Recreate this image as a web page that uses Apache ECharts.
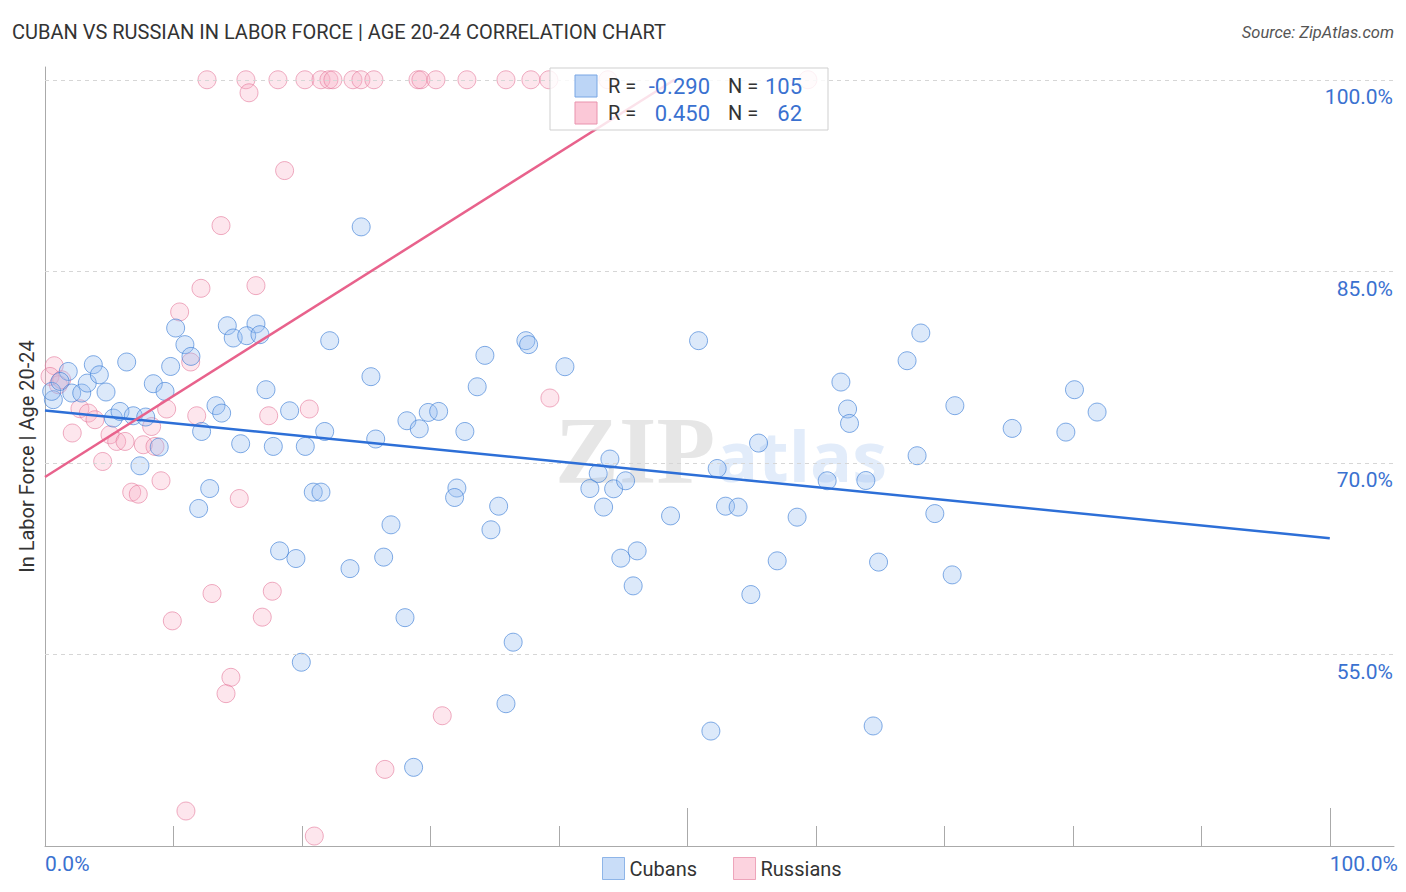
<!DOCTYPE html>
<html><head><meta charset="utf-8">
<script src="https://cdn.jsdelivr.net/npm/echarts@6/dist/echarts.min.js"></script>
<style>html,body{margin:0;padding:0;background:#fff}#c{width:1406px;height:892px}</style>
</head><body><div id="c"></div>
<script>
const cubans = [[0.65,74.95],[0.52,75.6],[1.81,77.16],[1.17,76.38],[2.08,75.47],[2.86,75.47],[3.29,76.25],[3.76,77.69],[4.23,76.9],[4.75,75.55],[5.32,73.51],[5.84,74.03],[6.87,73.69],[7.84,73.59],[6.36,77.9],[8.43,76.2],[9.34,75.6],[9.78,77.55],[10.89,79.26],[11.36,78.34],[10.17,80.56],[7.39,69.77],[8.89,71.24],[12.19,72.46],[13.31,74.48],[13.75,73.9],[15.23,71.5],[12.82,67.99],[11.96,66.43],[14.19,80.74],[16.42,80.88],[14.65,79.78],[15.7,79.96],[16.73,80.04],[22.16,79.57],[24.61,88.48],[25.37,76.75],[17.2,75.73],[17.77,71.29],[20.26,71.29],[19.04,74.08],[21.77,72.46],[25.74,71.87],[28.17,73.3],[29.13,72.67],[29.83,73.95],[30.64,74.03],[32.68,72.46],[33.64,75.96],[34.24,78.42],[37.43,79.57],[37.64,79.26],[40.47,77.53],[50.87,79.57],[61.95,76.33],[62.47,74.22],[62.62,73.09],[55.54,71.55],[43.97,70.3],[68.17,80.17],[67.1,78.0],[70.82,74.48],[75.28,72.7],[80.13,75.73],[81.89,73.98],[79.46,72.41],[67.88,70.56],[69.26,66.03],[70.61,61.23],[35.31,66.61],[34.71,64.76],[43.06,69.17],[42.41,67.99],[44.26,67.97],[45.19,68.6],[43.48,66.54],[48.69,65.85],[52.32,69.56],[52.97,66.61],[53.95,66.54],[60.88,68.6],[63.89,68.62],[58.54,65.75],[44.82,62.54],[46.09,63.11],[45.78,60.37],[56.99,62.33],[54.94,59.69],[64.88,62.23],[36.44,55.96],[35.88,51.14],[51.83,49.0],[64.46,49.4],[20.88,67.71],[21.48,67.71],[18.26,63.11],[19.53,62.51],[23.74,61.72],[26.93,65.15],[26.36,62.62],[28.02,57.88],[19.95,54.39],[28.69,46.16],[32.06,68.03],[31.88,67.29]];
const russians = [[12.61,100],[15.64,100],[18.13,100],[20.23,100],[21.48,100],[22.1,100],[22.41,100],[23.97,100],[24.59,100],[25.6,100],[29.03,100],[29.26,100],[30.43,100],[32.84,100],[35.88,100],[37.82,100],[39.22,100],[43.81,100],[59.38,100],[15.88,98.98],[18.65,92.89],[13.7,88.58],[12.14,83.67],[16.42,83.88],[10.48,81.82],[11.34,77.9],[0.72,77.61],[0.39,76.77],[1.04,76.12],[1.3,76.51],[2.72,74.24],[3.37,73.9],[3.89,73.38],[2.12,72.34],[5.06,72.2],[5.58,71.68],[6.23,71.68],[7.65,71.42],[8.3,72.85],[8.56,71.29],[4.49,70.11],[9.03,68.6],[9.47,74.22],[11.81,73.69],[17.41,73.69],[20.57,74.22],[6.75,67.71],[7.26,67.55],[15.12,67.21],[13.0,59.77],[9.91,57.63],[17.69,59.95],[16.91,57.92],[14.47,53.21],[14.09,51.93],[30.92,50.2],[26.46,46.0],[10.97,42.74],[20.96,40.78],[39.3,75.08]];
const cubanTrend = [[0,74.1],[100,64.1]];
const russianTrend = [[0,68.9],[49,100]];
const yTickValues = [55,70,85,100];
const xLabelValues = [0,100];
const xMinorTicks = [10,20,30,40,60,70,80,90];
const xMajorTicks = [50,100];
const seriesNames = ['Cubans','Russians'];
const statR = ['-0.290','0.450'];
const statN = ['105','62'];

const BLUE_TXT = '#3a71d0';
const FONT = 'Roboto, "Open Sans", sans-serif';
const chart = echarts.init(document.getElementById('c'), null, {renderer:'svg'});

const statsGraphics = [];
const swatch = [{fill:'#bcd5f6',stroke:'#78a6e4'},{fill:'#fbc8d7',stroke:'#e992ad'}];
seriesNames.forEach((n,i)=>{
  const cy = 86 + i*27;
  statsGraphics.push({type:'rect', shape:{x:575,y:cy-11,width:22,height:22}, style:{fill:swatch[i].fill, stroke:swatch[i].stroke, lineWidth:1}, z:101});
  statsGraphics.push({type:'text', x:608, y:cy, style:{text:'R = ', fill:'#333', font:'20px '+FONT, textVerticalAlign:'middle', textAlign:'left'}, z:101});
  statsGraphics.push({type:'text', x:710, y:cy, style:{text:statR[i], fill:BLUE_TXT, font:'22px '+FONT, textVerticalAlign:'middle', textAlign:'right'}, z:101});
  statsGraphics.push({type:'text', x:728, y:cy, style:{text:'N = ', fill:'#333', font:'20px '+FONT, textVerticalAlign:'middle', textAlign:'left'}, z:101});
  statsGraphics.push({type:'text', x:802, y:cy, style:{text:statN[i], fill:BLUE_TXT, font:'22px '+FONT, textVerticalAlign:'middle', textAlign:'right'}, z:101});
});

const pct = v => v.toFixed(1) + '%';

chart.setOption({
  animation:false,
  backgroundColor:'#fff',
  title:{text:'CUBAN VS RUSSIAN IN LABOR FORCE | AGE 20-24 CORRELATION CHART', left:12, top:22, padding:0,
    textStyle:{fontSize:20, fontWeight:'normal', color:'#333', fontFamily:FONT}},
  grid:{left:45, right:12, top:67, bottom:46},
  legend:{
    data:[
      {name:'Cubans', itemStyle:{color:'#bcd5f6', borderColor:'#78a6e4', borderWidth:1}},
      {name:'Russians', itemStyle:{color:'#fbc8d7', borderColor:'#e992ad', borderWidth:1}}
    ],
    icon:'rect', left:597, top:852, itemWidth:22, itemHeight:22, itemGap:36,
    textStyle:{fontSize:20, color:'#333', fontFamily:FONT}, selectedMode:false
  },
  xAxis:[
    {type:'value', min:0, max:105, position:'bottom',
      axisLine:{show:true, onZero:false, lineStyle:{color:'#aaa', width:1}},
      axisTick:{show:true, inside:true, length:20, customValues:xMinorTicks, lineStyle:{color:'#aaa'}},
      axisLabel:{customValues:xLabelValues, formatter:pct, color:BLUE_TXT, fontSize:21, fontFamily:FONT, align:'left', margin:7},
      splitLine:{show:false}},
    {type:'value', min:0, max:105, position:'bottom',
      axisLine:{show:false, onZero:false},
      axisTick:{show:true, inside:true, length:38, customValues:xMajorTicks, lineStyle:{color:'#aaa'}},
      axisLabel:{show:false}, splitLine:{show:false}}
  ],
  yAxis:[
    {type:'value', min:40, max:101, position:'left',
      axisLine:{show:true, onZero:false, lineStyle:{color:'#aaa', width:1}},
      axisTick:{show:false}, axisLabel:{show:false}, splitLine:{show:false},
      name:'In Labor Force | Age 20-24', nameLocation:'middle', nameGap:8,
      nameTextStyle:{fontSize:20, color:'#333', fontFamily:FONT}},
    {type:'value', min:40, max:101, position:'right',
      axisLine:{show:false}, axisTick:{show:false}, splitLine:{show:false},
      axisLabel:{customValues:yTickValues, inside:true, align:'right', verticalAlign:'top', padding:[7,0,0,0], margin:1,
        formatter:pct, color:BLUE_TXT, fontSize:21, fontFamily:FONT}}
  ],
  series:[
    {name:'Russians', type:'scatter', data:russians, symbolSize:18, z:2,
      itemStyle:{color:'rgba(247,172,196,0.38)', borderColor:'rgba(229,118,154,0.75)', borderWidth:1}},
    {name:'Cubans', type:'scatter', data:cubans, symbolSize:18, z:3,
      itemStyle:{color:'rgba(150,190,240,0.42)', borderColor:'rgba(60,125,215,0.8)', borderWidth:1},
      markLine:{silent:true, symbol:['none','none'], label:{show:false},
        lineStyle:{type:[4,4], color:'#d6d6d6', width:1},
        data:yTickValues.map(v=>({yAxis:v}))}},
    {name:'cubanTrend', type:'line', data:cubanTrend, symbol:'none', z:5,
      lineStyle:{color:'#2d6fd7', width:2.5}},
    {name:'russianTrend', type:'line', data:russianTrend, symbol:'none', z:5,
      lineStyle:{color:'#e8628c', width:2.5}}
  ],
  graphic:[
    {type:'text', left:555, top:402, z:0, silent:true,
      style:{text:'ZIP', fill:'rgba(200,200,200,0.45)', font:'bold 96px "Liberation Serif", "DejaVu Serif", serif'}},
    {type:'text', left:716, top:420, z:0, silent:true,
      style:{text:'atlas', fill:'rgba(180,206,242,0.38)', font:'bold 70px "Open Sans", sans-serif'}},
    {type:'text', right:12, top:24, style:{text:'Source: ZipAtlas.com', fill:'#555', font:'italic 16.5px '+FONT}},
    {type:'rect', shape:{x:550,y:68,width:278,height:62}, style:{fill:'rgba(255,255,255,0.82)', stroke:'#cfcfcf', lineWidth:1}, z:100},
    ...statsGraphics
  ]
});
</script></body></html>
